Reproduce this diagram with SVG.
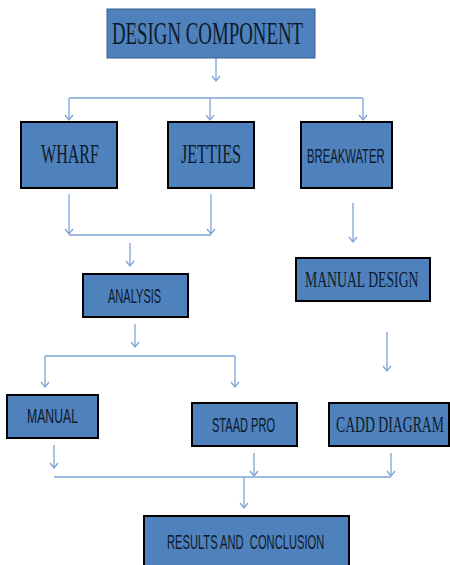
<svg xmlns="http://www.w3.org/2000/svg" width="450" height="565" viewBox="0 0 450 565">
<style>
.box{fill:#4F81BD;stroke:#000;stroke-width:2}
.top{fill:#4F81BD;stroke:#3b5f8c;stroke-width:1}
.ln{fill:none;stroke:#7FA3D6;stroke-width:1.3}
.ar{fill:none;stroke:#7FA3D6;stroke-width:1.3;marker-end:url(#a)}
.serif{font-family:"Liberation Serif","Times New Roman",serif;fill:#0d1a2a}
.sans{font-family:"Liberation Sans",Arial,sans-serif;fill:#0d1a2a}
</style>
<defs>
<marker id="a" markerUnits="userSpaceOnUse" markerWidth="10" markerHeight="10" refX="6" refY="5" orient="auto" viewBox="0 0 10 10">
<path d="M1,1 L6,5 L1,9" fill="none" stroke="#7FA3D6" stroke-width="1.3"/>
</marker>
</defs>
<rect width="450" height="565" fill="#fff"/>
<g id="connectors">
<path class="ar" d="M216,58 V81"/>
<path class="ln" d="M69,98 H363"/>
<path class="ar" d="M69,98 V120"/>
<path class="ar" d="M210,98 V120"/>
<path class="ar" d="M363,98 V120"/>
<path class="ar" d="M69,194 V234"/>
<path class="ar" d="M211,194 V234"/>
<path class="ln" d="M69,235 H211"/>
<path class="ar" d="M130,243 V266"/>
<path class="ar" d="M353,203 V242"/>
<path class="ar" d="M135,324 V347"/>
<path class="ln" d="M45,356 H235"/>
<path class="ar" d="M45,356 V387"/>
<path class="ar" d="M235,356 V387"/>
<path class="ar" d="M387,332 V371"/>
<path class="ar" d="M54,445 V468"/>
<path class="ar" d="M254,453 V476"/>
<path class="ar" d="M391,453 V476"/>
<path class="ln" d="M54,477 H391"/>
<path class="ar" d="M244,477 V508"/>
</g>
<g id="design-component">
<rect class="top" x="107" y="9" width="208" height="49"/>
<text class="serif" font-size="32" transform="translate(112,44) scale(0.589,1)">DESIGN COMPONENT</text>
</g>
<g id="wharf">
<rect class="box" x="21" y="122" width="96" height="66"/>
<text class="serif" font-size="27" transform="translate(41,163) scale(0.595,1)">WHARF</text>
</g>
<g id="jetties">
<rect class="box" x="168" y="122" width="86" height="66"/>
<text class="serif" font-size="27" transform="translate(181,163) scale(0.597,1)">JETTIES</text>
</g>
<g id="breakwater">
<rect class="box" x="301" y="122" width="91" height="66"/>
<text class="sans" font-size="20" transform="translate(307,163) scale(0.564,1)">BREAKWATER</text>
</g>
<g id="analysis">
<rect class="box" x="83" y="274" width="105" height="43"/>
<text class="sans" font-size="21" transform="translate(108,303) scale(0.526,1)">ANALYSIS</text>
</g>
<g id="manual-design">
<rect class="box" x="296" y="258" width="134" height="43"/>
<text class="serif" font-size="23" transform="translate(305,287) scale(0.597,1)">MANUAL DESIGN</text>
</g>
<g id="manual">
<rect class="box" x="7" y="395" width="91" height="43"/>
<text class="sans" font-size="21" transform="translate(27,423) scale(0.583,1)">MANUAL</text>
</g>
<g id="staad-pro">
<rect class="box" x="192" y="403" width="105" height="43"/>
<text class="sans" font-size="21" transform="translate(212,432) scale(0.527,1)">STAAD PRO</text>
</g>
<g id="cadd-diagram">
<rect class="box" x="329" y="403" width="120" height="43"/>
<text class="serif" font-size="23" transform="translate(336,432) scale(0.597,1)">CADD DIAGRAM</text>
</g>
<g id="results">
<rect class="box" x="144" y="516" width="205" height="52"/>
<text class="sans" font-size="21" transform="translate(167,549) scale(0.532,1)" xml:space="preserve">RESULTS AND  CONCLUSION</text>
</g>
</svg>
